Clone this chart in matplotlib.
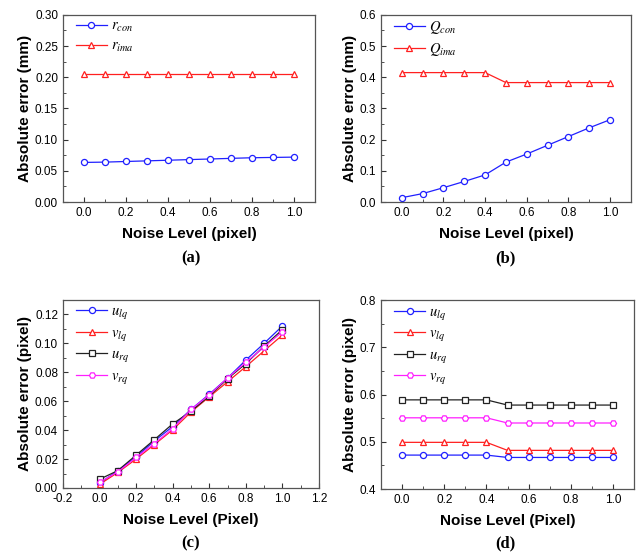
import matplotlib
matplotlib.use('Agg')
import matplotlib.pyplot as plt
from matplotlib.ticker import MultipleLocator

plt.rcParams['font.family'] = ['Liberation Sans', 'DejaVu Sans']
plt.rcParams['mathtext.fontset'] = 'stix'

# noise levels
noise = [0.0, 0.1, 0.2, 0.3, 0.4, 0.5, 0.6, 0.7, 0.8, 0.9, 1.0]

# (a) radius error
r_con = [0.0635, 0.064, 0.065, 0.066, 0.067, 0.068, 0.069, 0.070, 0.071, 0.0715, 0.072]
r_ima = [0.206, 0.206, 0.206, 0.206, 0.206, 0.206, 0.206, 0.206, 0.206, 0.206, 0.206]

# (b) Q error
Q_con = [0.014, 0.027, 0.046, 0.066, 0.087, 0.128, 0.154, 0.182, 0.210, 0.238, 0.264]
Q_ima = [0.415, 0.415, 0.415, 0.415, 0.415, 0.383, 0.383, 0.383, 0.383, 0.383, 0.383]

# (c) image point error, conical fit
c_ulq = [0.0034, 0.0118, 0.0216, 0.0325, 0.0425, 0.0543, 0.0648, 0.0760, 0.0884, 0.1000, 0.1120]
c_vlq = [0.0025, 0.0107, 0.0200, 0.0300, 0.0402, 0.0525, 0.0630, 0.0734, 0.0839, 0.0948, 0.1057]
c_urq = [0.0060, 0.0120, 0.0227, 0.0334, 0.0443, 0.0530, 0.0636, 0.0755, 0.0860, 0.0980, 0.1095]
c_vrq = [0.0039, 0.0111, 0.0211, 0.0307, 0.0410, 0.0543, 0.0643, 0.0760, 0.0868, 0.0975, 0.1080]

# (d) image point error, other method
d_ulq = [0.472, 0.472, 0.472, 0.472, 0.472, 0.467, 0.467, 0.467, 0.467, 0.467, 0.467]
d_vlq = [0.499, 0.499, 0.499, 0.499, 0.499, 0.482, 0.482, 0.482, 0.482, 0.482, 0.482]
d_urq = [0.589, 0.589, 0.589, 0.589, 0.589, 0.578, 0.578, 0.578, 0.578, 0.578, 0.578]
d_vrq = [0.551, 0.551, 0.551, 0.551, 0.551, 0.540, 0.540, 0.540, 0.540, 0.540, 0.540]


def style_axes(ax, xlim, ylim, xmaj, xmin, ymaj, ymin, xlabel, ylabel, yfmt):
    ax.set_xlim(xlim)
    ax.set_ylim(ylim)
    ax.xaxis.set_major_locator(MultipleLocator(xmaj))
    ax.xaxis.set_minor_locator(MultipleLocator(xmin))
    ax.yaxis.set_major_locator(MultipleLocator(ymaj))
    ax.yaxis.set_minor_locator(MultipleLocator(ymin))
    ax.yaxis.set_major_formatter(plt.FormatStrFormatter(yfmt))
    ax.xaxis.set_major_formatter(plt.FormatStrFormatter('%.1f'))
    ax.tick_params(which='both', direction='in', top=False, right=False,
                   labelsize=8.5, colors='#333333', labelcolor='black')
    ax.tick_params(which='major', length=3.5)
    ax.tick_params(which='minor', length=2)
    for s in ax.spines.values():
        s.set_color('#555555')
        s.set_linewidth(0.9)
    ax.set_xlabel(xlabel, fontsize=11, fontweight='bold', labelpad=6)
    ax.set_ylabel(ylabel, fontsize=11, fontweight='bold', labelpad=2)


def draw(ax, y, color, marker, label):
    ax.plot(noise, y, color=color, marker=marker, markersize=4.4,
            markerfacecolor='white', markeredgecolor=color, markeredgewidth=0.9,
            linewidth=0.9, label=label)


def legend(ax):
    ax.legend(loc='upper left', bbox_to_anchor=(0.035, 1.0), frameon=False,
              prop={'size': 10.5}, handlelength=2.1, handletextpad=0.3,
              labelspacing=0.3, borderaxespad=0.0, borderpad=0.3)


fig = plt.figure(figsize=(6.36, 5.52), dpi=100)

ax1 = fig.add_axes([0.099, 0.634, 0.396, 0.339])
draw(ax1, r_con, '#2020ff', 'o', r'$r_{con}$')
draw(ax1, r_ima, '#ff2020', '^', r'$r_{ima}$')
style_axes(ax1, (-0.1, 1.1), (0, 0.3), 0.2, 0.1, 0.05, 0.025,
           'Noise Level (pixel)', 'Absolute error (mm)', '%.2f')
legend(ax1)

ax2 = fig.add_axes([0.599, 0.634, 0.393, 0.339])
draw(ax2, Q_con, '#2020ff', 'o', r'$Q_{con}$')
draw(ax2, Q_ima, '#ff2020', '^', r'$Q_{ima}$')
style_axes(ax2, (-0.1, 1.1), (0, 0.6), 0.2, 0.1, 0.1, 0.05,
           'Noise Level (pixel)', 'Absolute error (mm)', '%.1f')
legend(ax2)

ax3 = fig.add_axes([0.099, 0.116, 0.4025, 0.3406])
draw(ax3, c_ulq, '#2020ff', 'o', r'$u_{lq}$')
draw(ax3, c_vlq, '#ff2020', '^', r'$v_{lq}$')
draw(ax3, c_urq, '#222222', 's', r'$u_{rq}$')
draw(ax3, c_vrq, '#ff20ff', 'H', r'$v_{rq}$')
style_axes(ax3, (-0.2, 1.2), (0, 0.13), 0.2, 0.1, 0.02, 0.01,
           'Noise Level (Pixel)', 'Absolute error (pixel)', '%.2f')
legend(ax3)

ax4 = fig.add_axes([0.599, 0.114, 0.398, 0.342])
draw(ax4, d_ulq, '#2020ff', 'o', r'$u_{lq}$')
draw(ax4, d_vlq, '#ff2020', '^', r'$v_{lq}$')
draw(ax4, d_urq, '#222222', 's', r'$u_{rq}$')
draw(ax4, d_vrq, '#ff20ff', 'H', r'$v_{rq}$')
style_axes(ax4, (-0.1, 1.1), (0.4, 0.8), 0.2, 0.1, 0.1, 0.05,
           'Noise Level (Pixel)', 'Absolute error (pixel)', '%.1f')
legend(ax4)

for x, y, t in [(0.30, 0.532, '(a)'), (0.795, 0.532, '(b)'),
                (0.30, 0.016, '(c)'), (0.795, 0.016, '(d)')]:
    fig.text(x, y, t, ha='center', va='center', fontsize=12,
             fontweight='bold', family=['Liberation Serif', 'DejaVu Serif'])

fig.savefig('out.png', dpi=100)
